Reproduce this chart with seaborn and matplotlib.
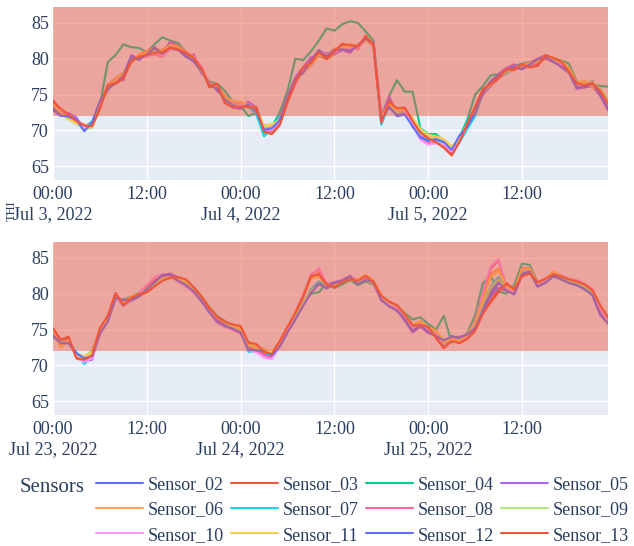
import pandas as pd
import seaborn as sns
import matplotlib.pyplot as plt

sensors = ['Sensor_02', 'Sensor_03', 'Sensor_04', 'Sensor_05', 'Sensor_06', 'Sensor_07',
           'Sensor_08', 'Sensor_09', 'Sensor_10', 'Sensor_11', 'Sensor_12', 'Sensor_13']
colors = ['#636EFA', '#EF553B', '#00CC96', '#AB63FA', '#FFA15A', '#19D3F3',
          '#FF6692', '#B6E880', '#FF97FF', '#FECB52', '#636EFA', '#EF553B']

# hourly THI, Jul 3-5 2022
top_s02 = [73.0, 72.2, 71.8, 71.6, 70.5, 71.2, 73.6, 75.6, 77.0, 77.8, 80.3, 79.8, 80.7, 81.4, 80.5, 81.4, 81.2, 80.3, 79.6, 78.2, 76.5, 75.7, 74.5, 73.8,
           73.2, 73.8, 72.8, 70.3, 70.2, 71.6, 74.6, 77.2, 78.0, 79.8, 81.2, 80.5, 81.3, 81.4, 81.2, 81.9, 82.7, 82.2, 71.8, 73.2, 72.3, 72.4, 70.8, 69.0,
           68.5, 68.9, 68.3, 66.8, 69.2, 70.5, 72.4, 75.2, 76.9, 77.8, 78.3, 78.9, 78.5, 79.3, 79.8, 80.1, 79.5, 79.0, 78.6, 76.0, 76.2, 76.9, 75.0, 73.2]
top_s03 = [74.2, 72.9, 72.3, 71.2, 70.8, 70.4, 73.2, 76.2, 76.5, 77.2, 79.6, 80.5, 80.3, 80.8, 81.2, 82.0, 81.3, 80.9, 80.2, 78.8, 76.0, 76.3, 73.9, 73.4,
           73.6, 73.2, 73.3, 69.8, 69.6, 70.9, 74.0, 76.5, 78.6, 79.2, 80.5, 79.9, 80.7, 82.1, 81.8, 81.3, 83.2, 81.8, 71.0, 74.2, 72.9, 73.1, 71.5, 69.8,
           69.1, 68.3, 67.7, 66.6, 68.5, 71.1, 73.1, 75.8, 76.3, 77.2, 78.3, 78.4, 79.1, 78.8, 79.3, 80.5, 80.0, 79.5, 78.2, 76.6, 76.3, 76.4, 75.6, 73.8]
top_s04 = [73.0, 72.3, 71.8, 71.2, 70.5, 71.0, 73.5, 79.5, 80.5, 82.0, 81.6, 81.5, 80.9, 82.0, 83.0, 82.5, 82.2, 80.9, 80.0, 78.0, 76.8, 76.5, 75.5, 74.0,
           73.5, 72.0, 72.5, 69.2, 70.5, 72.5, 75.5, 80.0, 79.8, 81.0, 82.5, 84.2, 83.9, 84.8, 85.2, 85.0, 83.8, 82.5, 71.3, 74.8, 77.0, 75.4, 75.4, 70.3,
           69.5, 69.5, 68.5, 67.5, 69.0, 71.5, 75.0, 76.2, 77.7, 77.8, 78.5, 79.0, 79.3, 79.5, 79.6, 80.3, 79.6, 79.8, 79.3, 76.8, 76.3, 76.5, 76.2, 76.1]
top_s05 = [72.8, 72.0, 72.4, 71.8, 70.0, 71.0, 73.8, 75.5, 77.2, 77.0, 80.5, 80.0, 80.9, 81.6, 80.6, 82.4, 81.8, 80.2, 80.6, 78.0, 76.8, 75.5, 74.6, 73.2,
           73.0, 74.0, 73.2, 70.5, 70.0, 71.8, 74.8, 77.4, 78.8, 80.2, 80.4, 80.8, 80.6, 81.2, 80.8, 82.0, 82.5, 82.3, 72.0, 74.8, 72.2, 73.0, 70.5, 69.2,
           68.9, 68.7, 68.5, 67.3, 69.0, 70.6, 72.6, 75.0, 76.2, 77.9, 78.7, 79.2, 78.6, 79.5, 80.0, 80.5, 79.9, 78.8, 78.0, 75.8, 76.0, 76.2, 74.8, 72.8]
top_s06 = [73.8, 72.4, 71.9, 71.3, 70.6, 70.5, 73.3, 76.4, 77.3, 78.0, 79.4, 80.6, 81.1, 81.5, 81.0, 81.9, 81.8, 81.0, 79.8, 78.6, 76.6, 76.2, 74.8, 74.0,
           73.9, 73.6, 72.6, 70.4, 70.5, 71.0, 74.0, 76.9, 78.1, 79.0, 80.6, 80.3, 81.4, 81.6, 82.0, 81.8, 82.6, 81.7, 71.6, 73.5, 73.0, 72.5, 71.7, 70.0,
           69.3, 69.0, 68.4, 67.5, 68.6, 71.0, 72.9, 75.4, 76.8, 77.6, 78.2, 78.5, 79.0, 79.3, 79.6, 80.2, 80.1, 79.6, 78.8, 76.5, 76.8, 76.0, 75.5, 74.0]
top_s07 = [73.2, 72.5, 71.7, 71.0, 70.5, 71.2, 73.7, 75.9, 76.6, 77.6, 79.9, 80.1, 80.4, 81.2, 80.9, 81.5, 81.4, 80.4, 79.9, 78.4, 76.2, 75.9, 74.0, 73.5,
           73.3, 73.3, 72.2, 69.3, 70.0, 71.3, 74.4, 76.7, 78.2, 79.4, 80.7, 80.1, 80.9, 81.7, 81.4, 81.5, 82.9, 81.8, 70.8, 73.6, 72.5, 72.6, 71.4, 69.8,
           68.6, 68.8, 68.2, 67.2, 68.3, 70.2, 72.0, 75.3, 76.5, 77.4, 77.9, 78.7, 78.9, 79.1, 79.4, 80.2, 79.7, 79.2, 78.3, 76.2, 76.4, 76.5, 75.2, 73.4]
top_s08 = [73.6, 72.7, 72.1, 71.5, 70.2, 70.7, 73.9, 76.1, 76.9, 77.3, 79.7, 80.3, 80.4, 80.6, 80.3, 81.5, 81.7, 80.8, 80.1, 78.7, 76.4, 75.8, 74.3, 73.7,
           73.5, 73.4, 73.1, 70.1, 69.8, 71.1, 74.2, 76.6, 78.4, 79.6, 80.9, 80.4, 81.1, 81.9, 81.6, 81.4, 82.9, 82.1, 71.4, 73.9, 72.7, 72.9, 71.0, 68.8,
           68.2, 68.4, 67.6, 67.0, 68.9, 70.9, 72.7, 75.6, 76.7, 77.3, 78.1, 78.5, 78.7, 78.9, 79.4, 80.0, 79.6, 79.4, 78.5, 76.4, 76.6, 76.7, 75.4, 73.6]
top_s09 = [73.4, 72.3, 71.5, 70.9, 70.1, 70.4, 73.4, 75.7, 76.7, 77.5, 80.1, 80.0, 80.6, 80.9, 80.7, 81.6, 81.4, 80.5, 79.9, 78.3, 76.2, 76.1, 74.1, 73.5,
           73.3, 73.6, 73.1, 70.6, 70.8, 71.5, 74.5, 76.9, 78.2, 79.4, 80.6, 80.0, 80.9, 81.7, 81.4, 81.7, 82.9, 81.9, 71.6, 73.7, 72.5, 72.7, 71.3, 69.6,
           69.0, 68.8, 68.6, 67.6, 69.1, 70.7, 72.6, 75.4, 76.5, 77.6, 78.1, 78.7, 78.9, 79.2, 79.6, 80.4, 79.9, 79.4, 78.5, 76.4, 76.6, 76.8, 75.8, 74.2]
top_s10 = [73.3, 72.8, 72.2, 71.1, 70.4, 70.9, 73.6, 75.9, 77.1, 77.7, 79.8, 80.4, 80.2, 80.7, 80.4, 81.3, 81.6, 80.7, 80.3, 78.9, 76.5, 76.1, 74.4, 73.8,
           73.6, 73.7, 72.9, 70.2, 70.1, 71.4, 74.1, 76.5, 78.5, 79.7, 81.0, 80.6, 80.8, 81.5, 81.3, 81.5, 82.7, 81.6, 71.2, 73.9, 72.8, 72.6, 70.9, 68.7,
           68.0, 68.2, 68.1, 67.1, 69.0, 70.9, 72.9, 75.7, 76.8, 77.7, 78.4, 78.8, 79.0, 79.2, 79.9, 80.2, 79.6, 79.1, 78.3, 76.2, 76.3, 76.4, 75.1, 73.3]
top_s11 = [73.7, 72.4, 71.6, 71.0, 70.8, 70.6, 73.5, 76.1, 77.0, 77.9, 79.5, 80.5, 80.8, 81.3, 81.1, 81.9, 81.6, 80.7, 80.1, 78.6, 76.5, 76.2, 74.5, 74.1,
           74.0, 73.4, 72.9, 70.7, 70.9, 71.2, 74.2, 76.8, 78.2, 79.3, 80.7, 80.4, 81.2, 81.5, 81.7, 81.9, 82.6, 81.8, 71.9, 73.7, 72.8, 72.9, 71.8, 70.2,
           69.4, 69.2, 68.8, 67.8, 68.7, 70.6, 72.7, 75.3, 76.4, 77.6, 78.3, 78.6, 79.1, 79.4, 79.7, 80.3, 80.2, 79.7, 78.7, 76.7, 76.9, 76.3, 75.4, 73.9]
top_s12 = [73.1, 72.1, 71.9, 71.5, 69.9, 71.1, 74.1, 75.8, 76.6, 77.6, 80.2, 79.9, 80.6, 81.5, 80.7, 81.6, 81.3, 80.4, 79.7, 78.4, 76.4, 75.8, 74.3, 73.5,
           73.1, 73.6, 72.7, 70.1, 70.3, 71.4, 74.5, 77.1, 78.1, 79.7, 81.1, 80.3, 81.2, 81.3, 81.1, 81.8, 82.8, 82.0, 71.5, 73.3, 72.0, 72.2, 70.6, 69.0,
           68.6, 68.8, 68.4, 67.3, 69.3, 70.5, 72.5, 75.3, 76.8, 77.7, 78.4, 78.8, 78.6, 79.2, 79.9, 80.2, 79.6, 78.9, 78.2, 76.0, 76.0, 76.6, 75.0, 73.0]
top_s13 = [74.0, 73.0, 72.2, 71.3, 70.7, 70.6, 73.0, 76.3, 76.6, 77.3, 79.6, 80.3, 80.5, 80.8, 80.9, 81.5, 81.3, 80.8, 80.1, 78.6, 76.1, 76.5, 73.8, 73.2,
           73.3, 73.3, 73.2, 69.8, 69.5, 70.7, 74.0, 76.7, 78.8, 79.4, 80.9, 80.0, 81.0, 82.0, 81.9, 81.7, 83.1, 81.9, 71.1, 74.0, 73.1, 73.2, 71.3, 69.7,
           68.9, 68.4, 67.6, 66.5, 68.4, 70.9, 73.3, 75.7, 76.5, 77.4, 78.5, 78.5, 79.2, 78.8, 79.0, 80.5, 80.1, 79.6, 78.2, 76.6, 76.3, 76.6, 75.5, 73.7]

# hourly THI, Jul 23-25 2022
bot_s02 = [74.0, 73.0, 73.2, 71.6, 71.2, 71.4, 74.5, 76.2, 79.5, 79.0, 79.0, 79.6, 80.7, 81.6, 82.5, 82.7, 81.7, 81.3, 80.3, 79.1, 77.5, 76.3, 75.5, 75.0,
           74.5, 72.3, 72.2, 72.2, 71.3, 72.7, 74.7, 76.5, 78.5, 80.2, 81.5, 80.7, 81.4, 81.6, 82.3, 81.4, 81.8, 81.8, 79.2, 78.3, 77.6, 76.5, 74.9, 75.8,
           74.7, 74.3, 73.3, 74.1, 73.8, 74.4, 75.3, 78.2, 80.3, 81.9, 80.5, 80.0, 82.8, 83.0, 81.0, 81.6, 82.5, 82.1, 81.6, 81.3, 80.7, 80.0, 77.6, 76.0]
bot_s03 = [75.0, 73.5, 73.8, 71.0, 70.6, 71.2, 75.1, 76.8, 80.0, 78.5, 79.5, 80.0, 80.3, 81.1, 81.9, 82.3, 82.2, 81.9, 80.8, 79.5, 77.9, 76.7, 76.0, 75.6,
           75.2, 73.1, 72.6, 71.8, 71.5, 73.2, 75.3, 77.2, 79.5, 82.3, 82.8, 81.4, 80.8, 81.5, 82.0, 81.8, 82.4, 81.5, 79.6, 78.8, 78.3, 77.0, 75.5, 75.7,
           75.3, 74.0, 72.5, 73.5, 73.2, 73.8, 75.0, 77.5, 79.0, 80.5, 81.5, 80.5, 82.6, 83.0, 81.5, 82.0, 82.6, 82.4, 81.9, 81.6, 81.2, 80.4, 78.3, 76.6]
bot_s04 = [74.2, 73.4, 73.4, 71.5, 71.2, 72.0, 75.0, 76.3, 79.3, 79.2, 79.6, 80.1, 81.0, 81.8, 82.0, 82.3, 81.8, 81.4, 80.9, 79.6, 78.2, 76.9, 76.2, 75.5,
           75.0, 72.6, 72.5, 72.2, 71.8, 73.3, 75.2, 77.0, 78.5, 80.0, 80.2, 81.5, 80.8, 81.3, 81.9, 81.2, 81.7, 81.3, 79.8, 78.7, 78.3, 77.3, 76.4, 76.7,
           75.8, 75.0, 76.9, 73.2, 73.5, 74.5, 77.0, 81.5, 82.5, 80.3, 80.0, 81.2, 84.2, 84.0, 81.5, 81.6, 83.0, 82.0, 81.5, 81.2, 80.6, 80.0, 78.0, 76.8]
bot_s05 = [74.3, 73.1, 73.3, 71.7, 70.6, 70.8, 74.6, 76.4, 79.6, 78.3, 79.1, 79.9, 80.8, 81.5, 82.6, 82.8, 82.3, 81.1, 80.2, 78.9, 77.4, 76.0, 75.4, 75.1,
           74.6, 72.4, 72.0, 71.6, 71.0, 72.8, 74.8, 76.6, 78.6, 80.5, 81.6, 81.3, 81.6, 81.9, 82.5, 81.5, 82.1, 81.4, 79.1, 78.4, 77.8, 76.2, 74.6, 75.4,
           74.5, 74.2, 73.4, 73.9, 74.0, 74.2, 75.4, 77.8, 79.6, 80.8, 80.4, 80.0, 82.5, 83.2, 81.1, 81.7, 83.0, 82.4, 81.7, 81.2, 80.8, 79.8, 77.0, 75.9]
bot_s06 = [74.8, 72.5, 73.6, 71.2, 70.9, 71.7, 74.9, 76.6, 79.9, 78.6, 79.4, 79.7, 80.2, 81.2, 82.0, 82.4, 82.1, 81.7, 80.7, 79.4, 77.9, 76.6, 75.9, 75.4,
           74.9, 72.9, 72.4, 72.1, 71.7, 73.1, 75.1, 77.4, 79.8, 82.5, 82.9, 81.2, 81.1, 81.8, 82.1, 81.7, 82.3, 81.8, 79.5, 78.7, 78.1, 77.0, 75.3, 75.9,
           75.1, 74.7, 73.1, 73.6, 73.3, 74.1, 75.8, 79.5, 82.8, 83.5, 80.9, 80.3, 83.5, 83.6, 81.3, 81.9, 82.9, 82.3, 81.8, 81.6, 81.1, 80.3, 78.1, 76.4]
bot_s07 = [74.4, 73.3, 73.4, 71.8, 70.2, 71.4, 74.7, 76.4, 79.7, 78.9, 79.2, 79.8, 80.6, 81.4, 82.3, 82.4, 81.9, 81.5, 80.5, 79.2, 77.7, 76.4, 75.7, 75.2,
           74.7, 71.9, 72.0, 72.1, 71.0, 72.9, 74.9, 76.9, 78.7, 80.6, 81.7, 81.1, 81.3, 81.7, 82.2, 81.5, 82.0, 81.5, 79.3, 78.5, 77.9, 76.7, 75.1, 75.9,
           74.9, 74.5, 73.0, 73.7, 73.6, 74.0, 75.6, 78.6, 81.0, 82.3, 80.7, 80.1, 83.2, 83.3, 81.2, 81.7, 82.7, 82.2, 81.7, 81.4, 80.9, 80.1, 77.9, 76.2]
bot_s08 = [74.6, 73.2, 73.5, 71.1, 70.7, 71.3, 74.8, 76.5, 79.8, 78.7, 79.3, 79.9, 80.9, 81.9, 82.4, 82.6, 81.8, 81.2, 80.4, 79.2, 77.6, 76.5, 75.6, 75.0,
           74.7, 72.5, 72.1, 71.4, 71.2, 72.9, 75.1, 77.3, 79.6, 82.6, 83.4, 81.3, 81.0, 81.9, 82.4, 81.9, 82.2, 81.7, 79.5, 78.9, 78.2, 76.9, 75.4, 76.1,
           75.2, 74.8, 73.2, 73.9, 73.4, 74.2, 76.0, 80.0, 83.5, 84.6, 81.0, 80.4, 83.6, 83.5, 81.4, 82.0, 82.9, 82.5, 82.0, 81.8, 81.3, 80.6, 78.2, 76.5]
bot_s09 = [74.1, 73.2, 73.4, 71.4, 71.0, 71.8, 74.9, 76.5, 79.6, 79.1, 79.5, 80.0, 80.7, 81.5, 82.1, 82.3, 81.9, 81.5, 80.7, 79.4, 78.0, 76.7, 76.0, 75.4,
           74.9, 72.8, 72.4, 72.0, 71.7, 73.1, 75.1, 77.0, 78.8, 80.4, 81.2, 81.0, 81.3, 81.6, 82.0, 81.5, 81.9, 81.5, 79.5, 78.6, 78.1, 77.0, 75.5, 76.2,
           75.3, 74.7, 73.6, 73.6, 73.5, 74.2, 75.8, 78.6, 80.8, 82.0, 80.7, 80.3, 83.5, 83.5, 81.3, 81.9, 82.8, 82.4, 81.8, 81.5, 81.0, 80.3, 78.1, 76.4]
bot_s10 = [74.5, 72.8, 73.6, 71.2, 70.5, 71.0, 74.6, 76.3, 79.5, 78.5, 79.2, 80.1, 81.2, 82.3, 82.7, 82.4, 81.7, 81.0, 80.2, 79.0, 77.5, 76.2, 75.4, 74.9,
           74.4, 72.2, 71.8, 71.1, 70.9, 72.6, 74.9, 77.5, 79.9, 82.2, 83.6, 81.5, 80.9, 81.8, 82.3, 82.0, 82.1, 81.6, 79.2, 78.4, 78.0, 76.6, 75.0, 75.8,
           74.8, 74.4, 73.1, 73.8, 73.3, 74.0, 76.2, 80.2, 83.8, 84.8, 80.8, 80.2, 83.4, 83.3, 81.2, 81.9, 83.0, 82.6, 82.1, 81.9, 81.4, 80.7, 77.8, 76.1]
bot_s11 = [74.7, 72.6, 73.5, 71.5, 71.3, 71.9, 75.0, 76.7, 79.9, 78.9, 79.6, 79.9, 80.4, 81.0, 81.8, 82.2, 82.2, 81.8, 80.9, 79.6, 78.1, 76.8, 76.1, 75.6,
           75.1, 73.0, 72.6, 72.3, 71.9, 73.3, 75.3, 77.4, 79.7, 82.1, 82.4, 81.1, 81.2, 81.7, 82.0, 82.0, 82.6, 81.9, 79.8, 78.9, 78.4, 77.2, 75.6, 76.2,
           75.3, 74.9, 73.2, 73.7, 73.4, 74.3, 75.9, 79.2, 82.3, 83.2, 81.0, 80.5, 83.4, 83.4, 81.5, 82.1, 83.1, 82.5, 82.0, 81.7, 81.3, 80.5, 78.4, 76.7]
bot_s12 = [74.2, 73.1, 73.1, 71.7, 71.0, 71.3, 74.4, 76.1, 79.4, 79.1, 79.2, 79.6, 80.6, 81.6, 82.6, 82.6, 81.8, 81.2, 80.3, 79.0, 77.4, 76.2, 75.5, 75.1,
           74.6, 72.2, 72.1, 72.0, 71.4, 72.6, 74.6, 76.4, 78.3, 80.1, 81.3, 80.9, 81.5, 81.8, 82.4, 81.3, 81.9, 81.7, 79.1, 78.2, 77.7, 76.4, 74.8, 75.6,
           74.6, 74.1, 73.5, 74.0, 73.9, 74.3, 75.2, 77.6, 79.8, 81.5, 80.4, 79.9, 82.7, 83.1, 81.0, 81.5, 82.4, 82.0, 81.5, 81.2, 80.6, 79.8, 77.2, 75.8]
bot_s13 = [75.2, 73.6, 74.0, 71.0, 70.8, 71.4, 75.2, 76.9, 80.1, 78.4, 79.4, 79.9, 80.2, 81.0, 81.8, 82.2, 82.3, 82.0, 80.9, 79.6, 78.0, 76.8, 76.1, 75.7,
           75.5, 73.2, 73.0, 71.9, 71.6, 73.4, 75.4, 77.3, 79.6, 82.4, 82.7, 81.3, 80.9, 81.6, 82.0, 81.8, 82.5, 81.6, 79.7, 78.9, 78.4, 77.1, 75.6, 75.6,
           75.4, 73.8, 72.4, 73.4, 73.1, 73.7, 74.8, 77.2, 78.8, 80.2, 81.4, 80.6, 82.4, 82.8, 81.6, 82.1, 82.7, 82.4, 82.0, 81.7, 81.3, 80.5, 78.4, 76.7]

top_series = [top_s02, top_s03, top_s04, top_s05, top_s06, top_s07,
              top_s08, top_s09, top_s10, top_s11, top_s12, top_s13]
bot_series = [bot_s02, bot_s03, bot_s04, bot_s05, bot_s06, bot_s07,
              bot_s08, bot_s09, bot_s10, bot_s11, bot_s12, bot_s13]

top_start = '2022-07-03'
bot_start = '2022-07-23'
top_dates = ['Jul 3, 2022', 'Jul 4, 2022', 'Jul 5, 2022']
bot_dates = ['Jul 23, 2022', 'Jul 24, 2022', 'Jul 25, 2022']
thi_limit = 72


def long_frame(start, series):
    times = pd.date_range(start, periods=len(series[0]), freq='h')
    parts = []
    for name, vals in zip(sensors, series):
        parts.append(pd.DataFrame({'time': times, 'THI': vals, 'sensor': name}))
    return pd.concat(parts, ignore_index=True)


sns.set_theme(style='darkgrid', rc={'axes.facecolor': '#E5ECF6', 'grid.color': 'white',
                                    'grid.linewidth': 1.0})
plt.rcParams['font.family'] = ['Liberation Serif', 'DejaVu Serif']
text_col = '#2a3f5f'

W, H = 634, 546
fig = plt.figure(figsize=(W / 100, H / 100), dpi=100)
ax_top = fig.add_axes([53 / W, 1 - 180 / H, 555 / W, 173 / H])
ax_bot = fig.add_axes([53 / W, 1 - 415 / H, 555 / W, 173 / H])

for ax, start, series, dates in [(ax_top, top_start, top_series, top_dates),
                                 (ax_bot, bot_start, bot_series, bot_dates)]:
    df = long_frame(start, series)
    sns.lineplot(data=df, x='time', y='THI', hue='sensor', palette=colors,
                 linewidth=1.5, ax=ax, legend=(ax is ax_top))
    # shaded band sits above the traces, as in the original
    ax.axhspan(thi_limit, 90, color='#EF553B', alpha=0.47, lw=0, zorder=3)
    times = df['time'].unique()
    ax.set_xlim(times[0], times[-1])
    ax.set_ylim(63.1, 87.2)
    ax.set_yticks([65, 70, 75, 80, 85])
    ticks = pd.date_range(start, periods=6, freq='12h')
    labels = []
    for i, t in enumerate(ticks):
        if i % 2 == 0:
            labels.append('00:00\n' + dates[i // 2])
        else:
            labels.append('12:00')
    ax.set_xticks(ticks)
    ax.set_xticklabels(labels, linespacing=1.25)
    ax.set_xlabel('')
    ax.set_ylabel('')
    ax.tick_params(axis='both', length=0, labelsize=13, labelcolor=text_col)
    ax.tick_params(axis='x', pad=4)
    ax.tick_params(axis='y', pad=3)
    for s in ax.spines.values():
        s.set_visible(False)

handles, labs = ax_top.get_legend_handles_labels()
ax_top.get_legend().remove()
# legend fills row by row: reorder for matplotlib's column-first layout
ncol = 4
nrow = len(handles) // ncol
order = [r * ncol + c for c in range(ncol) for r in range(nrow)]
fig.legend([handles[i] for i in order], [labs[i] for i in order], ncol=ncol,
           loc='center left', bbox_to_anchor=(96 / W, 1 - 510 / H),
           frameon=False, fontsize=13, handlelength=2.6, handletextpad=0.28,
           columnspacing=0.38, labelspacing=0.46, borderpad=0, borderaxespad=0,
           labelcolor=text_col)
fig.text(20 / W, 1 - 487 / H, 'Sensors', fontsize=15, color=text_col, ha='left', va='center')
fig.text(12 / W, 1 - 211 / H, 'THI', fontsize=9, color=text_col, rotation=90,
         ha='center', va='center')

fig.savefig('out.png', dpi=100)
